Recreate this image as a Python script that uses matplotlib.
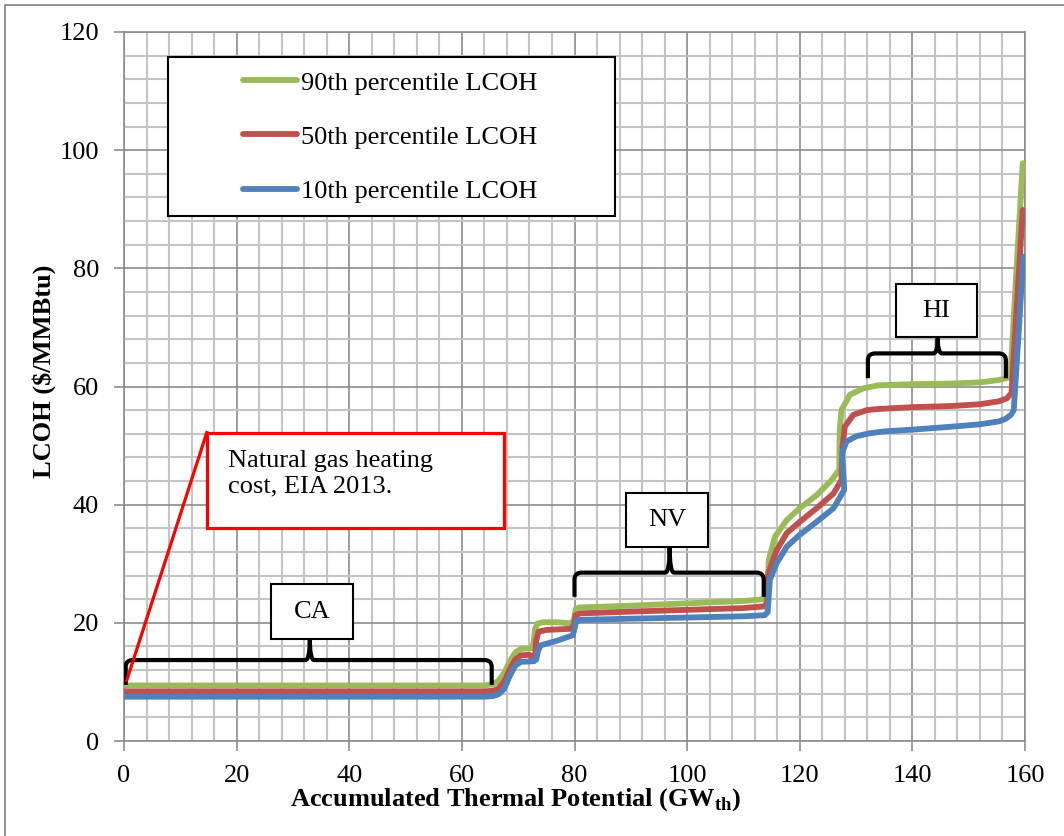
import numpy as np
import matplotlib
matplotlib.use('Agg')
import matplotlib.pyplot as plt
from matplotlib.patches import Rectangle, PathPatch
from matplotlib.path import Path
from matplotlib.ticker import MultipleLocator

plt.rcParams['font.family'] = ['Liberation Serif', 'DejaVu Serif']
plt.rcParams['mathtext.fontset'] = 'custom'
plt.rcParams['mathtext.rm'] = 'Liberation Serif'
plt.rcParams['mathtext.bf'] = 'Liberation Serif:bold'

# series (GW_th, $/MMBtu)
x_p90 = [0, 20, 40, 64, 65.5, 66.5, 67.5, 68.5, 69.5, 70.5, 72.3, 72.7, 73.0, 73.4, 74.5, 77, 79.3,
         79.9, 80.2, 80.8, 90, 100, 110, 113.8, 114.3, 114.5, 115.6, 117.7, 120, 123, 125.7,
         127.0, 127.1, 127.4, 128.9, 131.3, 134, 140, 147, 152, 155.4, 157.4, 158.5, 159.6]
y_p90 = [9.4, 9.4, 9.4, 9.4, 9.6, 10.2, 11.5, 13.5, 15.0, 15.6, 15.7, 16.5, 19.0, 19.9, 20.1, 20.1,
         19.9, 20.5, 22.3, 22.6, 22.9, 23.3, 23.7, 24.0, 25.5, 30.6, 34.6, 37.4, 39.4, 41.6, 44.2,
         45.9, 52.6, 56.0, 58.6, 59.7, 60.2, 60.4, 60.5, 60.7, 61.1, 61.6, 80.0, 97.8]

x_p50 = [0, 20, 40, 64, 65.5, 66.5, 67.5, 68.5, 69.5, 70.5, 72, 72.7, 73.0, 73.2, 73.6, 75, 79.5,
         79.9, 80.2, 81, 90, 100, 110, 113.8, 114.2, 114.4, 115.9, 117.7, 120, 123, 126,
         127.4, 127.6, 128.0, 129.5, 131.9, 134, 140, 147, 152, 155.4, 156.8, 157.6, 158.5, 159.6]
y_p50 = [8.4, 8.4, 8.4, 8.4, 8.5, 8.9, 10.0, 12.2, 13.8, 14.5, 14.6, 14.0, 14.3, 17.0, 18.5, 18.8,
         19.0, 19.7, 21.3, 21.6, 21.9, 22.2, 22.5, 22.8, 23.5, 28.4, 32.3, 35.2, 37.1, 39.4, 41.9,
         44.2, 49.8, 53.2, 55.2, 56.0, 56.2, 56.5, 56.7, 57.0, 57.5, 58.0, 58.9, 73.0, 89.9]

x_p10 = [0, 20, 40, 64, 65.5, 66.5, 67.5, 68.5, 69.5, 70.5, 72.8, 73.2, 73.5, 74, 77, 79.7,
         80.0, 80.3, 81, 90, 100, 110, 113.8, 114.3, 114.7, 115.9, 117.7, 120, 123, 126,
         127.9, 127.7, 127.5, 128.3, 130.1, 132.5, 135, 140, 147, 152, 155.4, 156.5, 157.5, 158,
         158.8, 159.7]
y_p10 = [7.5, 7.5, 7.5, 7.5, 7.6, 7.9, 8.8, 11.0, 12.8, 13.4, 13.5, 13.8, 15.2, 16.2, 17.0, 17.9,
         19.0, 20.3, 20.5, 20.7, 20.9, 21.1, 21.3, 21.8, 27.3, 30.1, 32.9, 34.9, 37.1, 39.4,
         42.5, 46.4, 48.7, 50.7, 51.6, 52.1, 52.4, 52.7, 53.2, 53.6, 54.1, 54.5, 55.2, 56.0,
         68.0, 82.0]

series_labels = ['90th percentile LCOH', '50th percentile LCOH', '10th percentile LCOH']
series_colors = ['#9BBB59', '#C0504D', '#4F81BD']

region_labels = ['CA', 'NV', 'HI']
callout_text = 'Natural gas heating\ncost, EIA 2013.'


def brace(ax, x0, x1, y0, y1, ytip, xmid, r=1.3, lw=3.0):
    # curly bracket opening downward, tip pointing up at xmid
    ry = r * 0.9
    verts = [(x0, y0), (x0, y1 - ry), (x0, y1), (x0 + r, y1),
             (xmid - r * 0.6, y1), (xmid, y1), (xmid, ytip),
             (xmid, y1), (xmid + r * 0.6, y1),
             (x1 - r, y1), (x1, y1), (x1, y1 - ry), (x1, y0)]
    codes = [Path.MOVETO, Path.LINETO, Path.CURVE3, Path.CURVE3,
             Path.LINETO, Path.CURVE3, Path.CURVE3,
             Path.CURVE3, Path.CURVE3,
             Path.LINETO, Path.CURVE3, Path.CURVE3, Path.LINETO]
    ax.add_patch(PathPatch(Path(verts, codes), fill=False, edgecolor='black', lw=lw,
                           capstyle='butt', joinstyle='round', zorder=6))


def label_box(ax, x0, x1, y0, y1, text):
    ax.add_patch(Rectangle((x0, y0), x1 - x0, y1 - y0, facecolor='white', edgecolor='black',
                           lw=1.5, zorder=7))
    ax.text((x0 + x1) / 2, (y0 + y1) / 2, text, ha='center', va='center', fontsize=19, zorder=8)


fig = plt.figure(figsize=(10.64, 8.36), dpi=100)
ax = fig.add_axes([124 / 1064, 1 - 741 / 836, 901 / 1064, 709 / 836])

for xs, ys, lab, col in zip([x_p90, x_p50, x_p10], [y_p90, y_p50, y_p10], series_labels,
                            series_colors):
    ax.plot(xs, ys, color=col, lw=4.2, label=lab, solid_capstyle='round', solid_joinstyle='round',
            zorder=4)

ax.set_xlim(0, 160)
ax.set_ylim(0, 120)
ax.xaxis.set_major_locator(MultipleLocator(20))
ax.xaxis.set_minor_locator(MultipleLocator(4))
ax.yaxis.set_major_locator(MultipleLocator(20))
ax.yaxis.set_minor_locator(MultipleLocator(4))
ax.grid(which='minor', color='#c4c4c4', lw=1.5, zorder=0)
ax.grid(which='major', color='#8c8c8c', lw=1.2, zorder=1)
ax.set_axisbelow(True)
for sp in ax.spines.values():
    sp.set_color('#8c8c8c')
    sp.set_linewidth(1.2)
ax.tick_params(which='major', length=7, width=1.2, color='#8c8c8c', labelsize=19, pad=10)
ax.tick_params(which='minor', length=0)
ax.tick_params(axis='y', pad=11)

ax.set_xlabel(r'Accumulated Thermal Potential (GW$_{\mathbf{th}}$)', fontsize=19,
              fontweight='bold')
ax.xaxis.set_label_coords(0.435, -0.064)
ax.set_ylabel('LCOH ($/MMBtu)', fontsize=19, fontweight='bold')
ax.yaxis.set_label_coords(-0.076, 0.521)

# legend frame and entries
ax.add_patch(Rectangle((7.9, 88.9), 87.2 - 7.9, 115.7 - 88.9, facecolor='white',
                       edgecolor='black', lw=1.5, zorder=9))
leg = ax.legend(loc='center left', bbox_to_anchor=((243 - 124) / 901, (741 - 137) / 709),
                frameon=False, fontsize=19, borderpad=0, borderaxespad=0, handlelength=2.05,
                handletextpad=0.15, labelspacing=1.16)
leg.set_zorder(10)

# region brackets
brace(ax, 0.3, 65.3, 9.5, 13.7, 17.3, 33.0)
label_box(ax, 26.1, 40.6, 17.3, 26.5, region_labels[0])
brace(ax, 80.0, 113.6, 24.4, 28.5, 32.9, 96.9)
label_box(ax, 89.1, 103.7, 32.9, 41.9, region_labels[1])
brace(ax, 132.1, 156.6, 61.4, 65.6, 68.3, 144.5)
label_box(ax, 137.1, 151.5, 68.3, 77.3, region_labels[2])

# natural gas callout
ax.plot([0.5, 14.7], [10.3, 52.2], color='#ff0000', lw=2.3, zorder=11)
ax.add_patch(Rectangle((14.7, 36.0), 67.5 - 14.7, 52.2 - 36.0, facecolor='white',
                       edgecolor='#ff0000', lw=2.3, zorder=11))
ax.text(18.5, 49.3, callout_text, ha='left', va='top', fontsize=19, linespacing=1.24, zorder=12)

fig.patches.append(Rectangle((5 / 1064, -0.05), 1.2, 1 - 5 / 836 + 0.05, transform=fig.transFigure,
                             fill=False, edgecolor='#808080', lw=1.2))

fig.savefig('out.png', dpi=100)
